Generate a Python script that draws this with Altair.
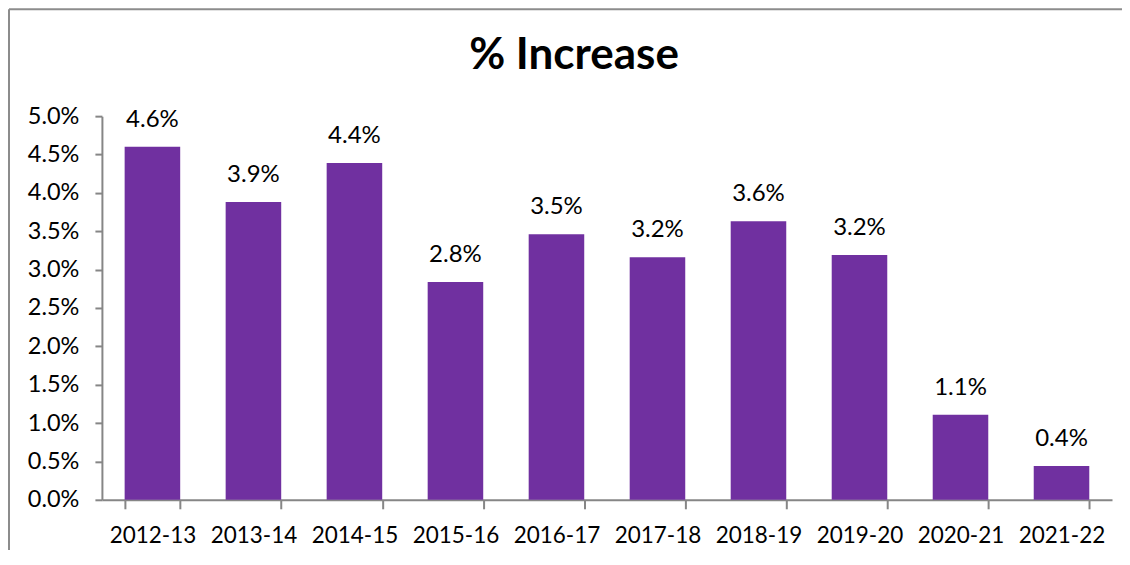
import altair as alt
import pandas as pd

years = ["2012-13", "2013-14", "2014-15", "2015-16", "2016-17",
         "2017-18", "2018-19", "2019-20", "2020-21", "2021-22"]
values = [0.046, 0.0388, 0.0439, 0.0284, 0.0346, 0.0316, 0.0363, 0.0319, 0.0111, 0.0044]
labels = ["4.6%", "3.9%", "4.4%", "2.8%", "3.5%", "3.2%", "3.6%", "3.2%", "1.1%", "0.4%"]
y_ticks = [0.0, 0.005, 0.01, 0.015, 0.02, 0.025, 0.03, 0.035, 0.04, 0.045, 0.05]

df = pd.DataFrame({"year": years, "value": values, "label": labels})

FONT = "Lato"
AXIS_COLOR = "#868686"

x = alt.X("year:N", sort=years, title=None,
          scale=alt.Scale(paddingInner=0.45, paddingOuter=0.225),
          axis=alt.Axis(labelAngle=0, labelFontSize=22.5, labelFont=FONT, labelColor="black",
                        domainColor=AXIS_COLOR, domainWidth=2, tickColor=AXIS_COLOR,
                        tickWidth=2, tickSize=9, tickBand="extent", labelPadding=16))
y = alt.Y("value:Q", title=None,
          scale=alt.Scale(domain=[0, 0.05], nice=False),
          axis=alt.Axis(format=".1%", values=y_ticks, tickCount=20,
                        labelFontSize=23.5, labelFont=FONT, labelColor="black",
                        labelOverlap=False,
                        domainColor=AXIS_COLOR, domainWidth=2, tickColor=AXIS_COLOR,
                        tickWidth=2, tickSize=7, grid=False, labelPadding=16))

base = alt.Chart(df)
bars = base.mark_bar(color="#7030A0").encode(x=x, y=y)
text = base.mark_text(baseline="bottom", dy=-15, fontSize=24, font=FONT, color="black").encode(
    x=x, y=y, text="label:N")

border_top = alt.Chart(pd.DataFrame({"a": [0]})).mark_rule(color="#8c8c8c", strokeWidth=2, clip=False).encode(
    x=alt.value(-93), x2=alt.value(1030), y=alt.value(-107))
border_left = alt.Chart(pd.DataFrame({"a": [0]})).mark_rule(color="#8c8c8c", strokeWidth=2, clip=False).encode(
    x=alt.value(-93), y=alt.value(-107), y2=alt.value(460))

chart = alt.layer(border_top, border_left, bars, text).properties(
    width=1011, height=384,
    autosize=alt.AutoSizeParams(type="none"),
    padding={"left": 94, "top": 108, "right": 10, "bottom": 50},
    title=alt.Title("% Increase", font=FONT, fontSize=44, fontWeight="bold", color="black",
                    anchor="middle", offset=-70, dx=-33, frame="group"),
).configure_view(stroke=None)

chart.save("out.html", embed_options={"renderer": "svg", "actions": False})
